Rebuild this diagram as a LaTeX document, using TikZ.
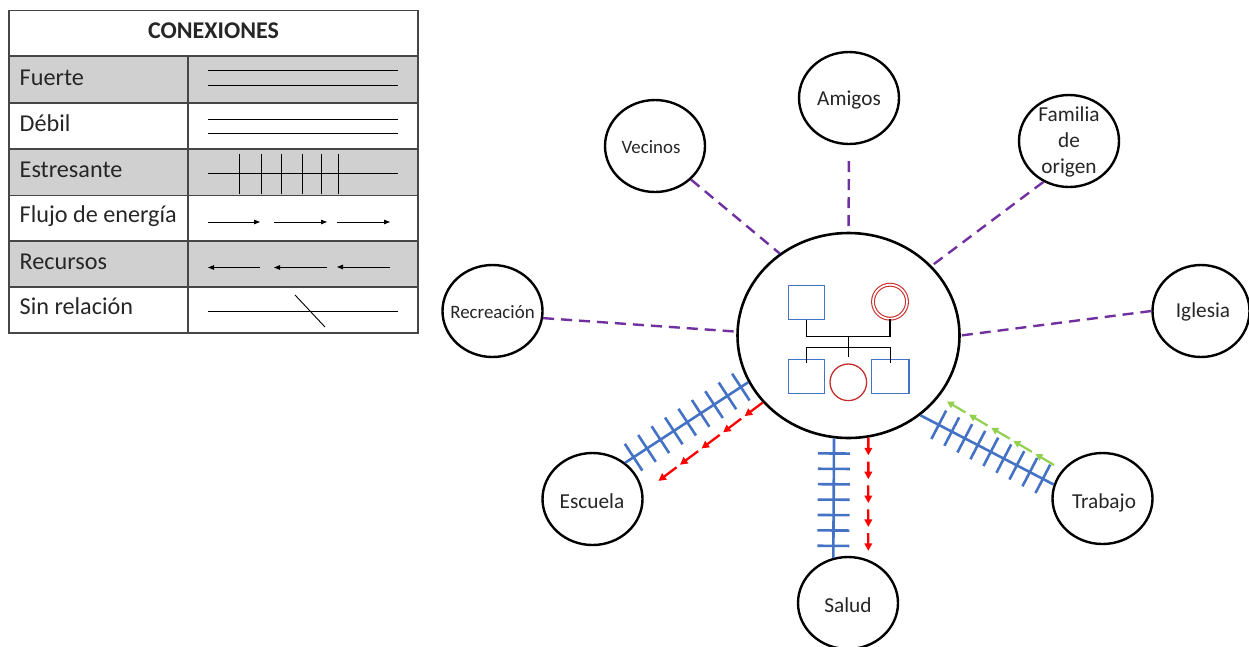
\documentclass[tikz,border=0pt]{standalone}
\usepackage{fontspec}
\setmainfont{Carlito}
\usetikzlibrary{shapes.geometric,calc,arrows.meta}

\definecolor{tblgray}{RGB}{208,208,208}
\definecolor{tblline}{RGB}{70,70,70}
\definecolor{txt}{RGB}{38,38,38}
\definecolor{kinblue}{RGB}{68,114,196}
\definecolor{kinred}{RGB}{200,45,45}
\definecolor{weakpurple}{RGB}{112,48,160}
\definecolor{flowgreen}{RGB}{146,208,80}
\definecolor{flowred}{RGB}{255,0,0}

% ticks across a stressful link: from, to, first fraction, step, last index
\newcommand\stressticks[5]{%
  \foreach \k in {0,...,#5}{%
    \pgfmathsetmacro\tt{#3+\k*#4}%
    \draw[stress] ($(#1)!\tt!(#2)!16pt!90:(#2)$) -- ($(#1)!\tt!(#2)!16pt!-90:(#2)$);
  }}
% a row of five arrows: style, from, to, dash fraction
\newcommand\flowseries[4]{%
  \foreach \k in {0,...,4}{%
    \pgfmathsetmacro\ta{\k/5}%
    \pgfmathsetmacro\tb{(\k+#4)/5}%
    \draw[#1] ($(#2)!\ta!(#3)$) -- ($(#2)!\tb!(#3)$);
  }}

\begin{document}
\begin{tikzpicture}[x=1pt,y=-1pt,
  tbltext/.style={text=txt,font=\fontsize{24.2}{28}\selectfont,inner sep=0pt},
  tblrule/.style={draw=tblline,line width=1.6pt},
  legline/.style={black,line width=0.9pt},
  legarrow/.style={black,line width=0.9pt,-{Triangle[length=6pt,width=4.5pt]}},
  sat/.style={ellipse,draw=black,line width=2.4pt,inner sep=0pt,
              minimum width=100pt,minimum height=92pt},
  lbl/.style={text=txt,inner sep=0pt,anchor=base,font=\fontsize{21.3}{26}\selectfont},
  lblsmall/.style={lbl,font=\fontsize{18.9}{22}\selectfont},
  weak/.style={draw=weakpurple,line width=2.4pt,dash pattern=on 11pt off 7pt},
  stress/.style={draw=kinblue,line width=2.6pt},
  redflow/.style={draw=flowred,line width=2.3pt,-{Triangle[length=7.5pt,width=7.5pt]}},
  greenflow/.style={draw=flowgreen,line width=2.2pt,-{Triangle[length=7pt,width=7pt]}},
  male/.style={rectangle,draw=kinblue,line width=1.3pt,inner sep=0pt,
               minimum width=36pt,minimum height=34pt},
  female/.style={circle,draw=kinred,line width=1.3pt,inner sep=0pt,minimum size=36.6pt},
  kinline/.style={draw=black,line width=1.3pt}]
\useasboundingbox (0,0) rectangle (1249,646);

% ---------- legend table ----------
\fill[tblgray] (9,56) rectangle (418,103);
\fill[tblgray] (9,149) rectangle (418,195.5);
\fill[tblgray] (9,241) rectangle (418,287);
\draw[tblrule] (9,10.5) rectangle (418,333);
\foreach \yy in {56,103,149,195.5,241,287} \draw[tblrule] (9,\yy) -- (418,\yy);
\draw[tblrule] (188,56) -- (188,333);

\node[tbltext,anchor=base,font=\bfseries\fontsize{24}{28}\selectfont] (hdr) at (213.5,38.5) {CONEXIONES};
\node[tbltext,anchor=base west] (tFuerte) at (19.5,85) {Fuerte};
\node[tbltext,anchor=base west] (tDebil) at (19.5,131.5) {Débil};
\node[tbltext,anchor=base west] (tEstres) at (19.5,177) {Estresante};
\node[tbltext,anchor=base west] (tFlujo) at (19.5,222.5) {Flujo de energía};
\node[tbltext,anchor=base west] (tRecur) at (19.5,269) {Recursos};
\node[tbltext,anchor=base west] (tSin) at (19.5,314.5) {Sin relación};

% strong / weak samples
\draw[legline] (208,70.5) -- (398,70.5) (208,85.5) -- (398,85.5);
\draw[legline] (208,119) -- (398,119) (208,133.5) -- (398,133.5);
% stressful sample
\draw[legline] (208,173) -- (398,173);
\foreach \xx in {239,261,281,302,321,338} \draw[legline] (\xx,154) -- (\xx,194);
% energy flow sample
\draw[legarrow] (208,222) -- (260,222);
\draw[legarrow] (274,222) -- (327,222);
\draw[legarrow] (337,222) -- (390,222);
% resources sample
\draw[legarrow] (260,267.5) -- (208,267.5);
\draw[legarrow] (327,267.5) -- (274,267.5);
\draw[legarrow] (390,267) -- (337,267);
% no relation sample
\draw[legline] (208,311) -- (398,311);
\draw[legline] (295,295) -- (325,327);

% ---------- ecomap ----------
\node[ellipse,draw=black,line width=2.6pt,inner sep=0pt,minimum width=222pt,minimum height=205pt] (main) at (848.5,335.5) {};

\node[sat] (amigos) at (849,98) {};
\node[lbl] (amigosT) at (849,105.5) {Amigos};
\node[sat] (vecinos) at (655,146) {};
\node[lblsmall] (vecinosT) at (651,153) {Vecinos};
\node[sat] (familia) at (1069,141) {};
\node[lbl,align=center] (familiaT) at (1069,173.5) {Familia\\de\\origen};
\node[sat] (recre) at (492.5,311) {};
\node[lblsmall] (recreT) at (492.5,318) {Recreación};
\node[sat,minimum width=97pt] (iglesia) at (1201,311) {};
\node[lbl] (iglesiaT) at (1203,317.5) {Iglesia};
\node[sat] (escuela) at (592.5,499) {};
\node[lbl] (escuelaT) at (592,508) {Escuela};
\node[sat] (salud) at (848,603) {};
\node[lbl] (saludT) at (848,612.5) {Salud};
\node[sat,minimum height=91pt] (trabajo) at (1102.5,498.5) {};
\node[lbl] (trabajoT) at (1104,508) {Trabajo};

% weak links
\draw[weak] (vecinos.317) -- (main.130);
\draw[weak,shorten <=16pt] (amigos.south) -- (main.north);
\draw[weak] (familia.238) -- (main.40);
\draw[weak] (recre.352) -- (main.178);
\draw[weak] (iglesia.180) -- (main.0);

% stressful links
\draw[stress] (main.205) -- (escuela.48);
\stressticks{main.205}{escuela.48}{0.06}{0.109}{8}
\draw[stress] (main.262) -- (salud.108);
\stressticks{main.262}{salud.108}{0.126}{0.129}{6}
\draw[stress] (main.312) -- (trabajo.164);
\stressticks{main.312}{trabajo.164}{0.138}{0.0976}{8}

% energy flows and resources
\coordinate (escTip) at ($(escuela.center)+(62.5,-15.5)$);
\flowseries{redflow}{main.218}{escTip}{0.84}
\coordinate (saludTip) at ($(salud.center)+(20.3,-46)$);
\flowseries{redflow}{main.281}{saludTip}{0.74}
\coordinate (grnTail) at ($(trabajo.center)+(-48.5,-33.5)$);
\coordinate (grnTip) at ($(main.center)+(94.8,63.8)$);
\flowseries{greenflow}{grnTail}{grnTip}{0.84}

% genogram inside the central circle
\node[male] (father) at (806.3,302.2) {};
\node[female,double=white,double distance=1.7pt,line width=1.1pt,minimum size=34pt] (mother) at (890,301.7) {};
\node[male] (son1) at (806.3,376.2) {};
\node[female] (daughter) at (848.3,382.3) {};
\node[male,minimum width=37.3pt] (son2) at (890.3,376.2) {};
\coordinate (couple) at (848.3,336.7);
\coordinate (sibs) at (848.3,347.7);
\draw[kinline] (father.south) |- (couple) -| (mother.south);
\draw[kinline] (couple) -- ($(daughter.north)+(0,-6)$);
\draw[kinline] ($(son1.north)+(0,4.3)$) |- (sibs) -| ($(son2.north)+(0,4.3)$);
\end{tikzpicture}
\end{document}
